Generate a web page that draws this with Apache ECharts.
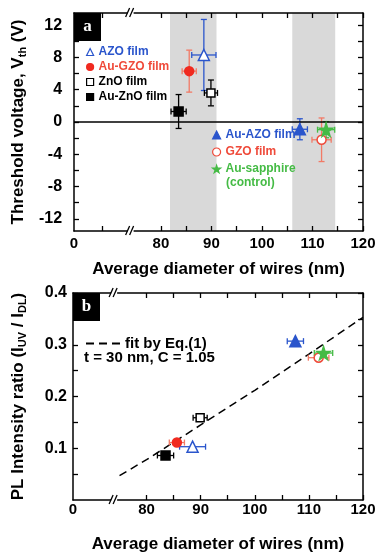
<!DOCTYPE html>
<html>
<head>
<meta charset="utf-8">
<script src="https://cdn.jsdelivr.net/npm/echarts@6/dist/echarts.min.js"></script>
<style>
html, body { margin: 0; padding: 0; background: #fff; }
#chart { width: 381px; height: 554px; }
</style>
</head>
<body>
<div id="chart"></div>
<script>
// samples, same order in both panels
const samples = ['AZO film', 'Au-GZO film', 'ZnO film', 'Au-ZnO film', 'Au-AZO film', 'GZO film', 'Au-sapphire']
const diameter = [88.5, 85.6, 89.9, 83.5, 107.5, 111.8, 112.7]
const diameterErr = [2.4, 1.4, 1.3, 1.5, 1.5, 1.9, 1.7]
const vth = [8.3, 6.3, 3.6, 1.3, -0.9, -2.2, -0.95]
const vthErr = [4.4, 2.6, 1.6, 2.1, 1.3, 2.7, 1.0]
const plRatio = [0.103, 0.111, 0.159, 0.086, 0.307, 0.275, 0.284]
// dashed model curve, panel b
const fitDiameter = [75, 80, 90, 100, 110, 120]
const fitRatio = [0.047, 0.078, 0.145, 0.212, 0.282, 0.353]
// shaded ranges of panel a
const shadeRanges = [[81.8, 91.0], [106.0, 114.5]]
// axes (the left end of each x axis stands for 0, the axis is broken)
const xMinA = 62.8
const xMinB = 66.4
const xBreak = 74
const xTicksA = [68.4, 80, 85, 90, 95, 100, 105, 110, 115, 120]
const xTicksB = [80, 85, 90, 95, 100, 105, 110, 115, 120]
const xLabelsA = [xMinA, 80, 90, 100, 110, 120]
const xLabelsB = [xMinB, 80, 90, 100, 110, 120]
const yTicksA = [-12, -10, -8, -6, -4, -2, 0, 2, 4, 6, 8, 10, 12]
const yLabelsA = [-12, -8, -4, 0, 4, 8, 12]
const yTicksB = [0.05, 0.1, 0.15, 0.2, 0.25, 0.3, 0.35, 0.4]
const yLabelsB = [0.1, 0.2, 0.3, 0.4]

const BLUE = '#2a55cc'
const RED = '#ef4a3a'
const SALMON = '#f27a66'
const GREEN = '#45bb45'
const FONT = '"Liberation Sans", Arial, sans-serif'
const STAR = 'path://M50,0 L61,35 L98,35 L68,57 L79,91 L50,70 L21,91 L32,57 L2,35 L39,35 Z'
const DASHES = 'path://M0,0 L8,0 L8,2 L0,2 Z M13,0 L21,0 L21,2 L13,2 Z M26,0 L34,0 L34,2 L26,2 Z'

const symbols = ['triangle', 'circle', 'rect', 'rect', 'triangle', 'circle', STAR]
const fills = ['#fff', '#f02a20', '#fff', '#000', BLUE, '#fff', GREEN]
const strokes = [BLUE, '#f02a20', '#000', '#000', BLUE, RED, GREEN]
const errColors = [BLUE, SALMON, '#000', '#000', BLUE, SALMON, GREEN]
const symSize = [11, 9, 8, 9, 11, 9, 13]
const textColors = [BLUE, RED, '#000', '#000', BLUE, RED, GREEN]

const myChart = echarts.init(document.getElementById('chart'))

function errorBars (hasY) {
  return function (params, api) {
    const x = api.value(0)
    const y = api.value(1)
    const ex = api.value(2)
    const ey = api.value(3)
    const style = { stroke: errColors[params.dataIndex], lineWidth: 1.3, fill: null }
    const cap = 3
    const l = api.coord([x - ex, y])
    const r = api.coord([x + ex, y])
    const children = [
      { type: 'line', shape: { x1: l[0], y1: l[1], x2: r[0], y2: r[1] }, style: style },
      { type: 'line', shape: { x1: l[0], y1: l[1] - cap, x2: l[0], y2: l[1] + cap }, style: style },
      { type: 'line', shape: { x1: r[0], y1: r[1] - cap, x2: r[0], y2: r[1] + cap }, style: style }
    ]
    if (hasY) {
      const t = api.coord([x, y + ey])
      const b = api.coord([x, y - ey])
      children.push(
        { type: 'line', shape: { x1: t[0], y1: t[1], x2: b[0], y2: b[1] }, style: style },
        { type: 'line', shape: { x1: t[0] - cap, y1: t[1], x2: t[0] + cap, y2: t[1] }, style: style },
        { type: 'line', shape: { x1: b[0] - cap, y1: b[1], x2: b[0] + cap, y2: b[1] }, style: style }
      )
    }
    return { type: 'group', children: children }
  }
}

function xAxisOf (gridIndex, min, ticks, labels, position, nameGap) {
  return {
    type: 'value',
    gridIndex: gridIndex,
    position: position,
    min: min,
    max: 120,
    z: 10,
    name: position === 'bottom' ? 'Average diameter of wires (nm)' : '',
    nameLocation: 'middle',
    nameGap: nameGap,
    nameTextStyle: { fontSize: 17, fontWeight: 'bold', color: '#000', fontFamily: FONT },
    axisLine: { show: true, onZero: false, lineStyle: { color: '#000', width: 1.5 } },
    axisTick: { show: true, inside: true, length: 5, customValues: ticks, lineStyle: { color: '#000', width: 1.3 } },
    axisLabel: {
      show: position === 'bottom',
      customValues: labels,
      showMinLabel: true,
      showMaxLabel: true,
      margin: gridIndex === 0 ? 5 : 2,
      fontSize: 15,
      fontWeight: 'bold',
      color: '#000',
      fontFamily: FONT,
      formatter: function (v) {
        return v < xBreak ? '0' : String(v)
      }
    },
    splitLine: { show: false }
  }
}

function yAxisOf (gridIndex, min, max, ticks, labels, position, name, fmt) {
  return {
    type: 'value',
    gridIndex: gridIndex,
    position: position,
    min: min,
    max: max,
    z: 10,
    name: position === 'left' ? name : '',
    nameLocation: 'middle',
    nameRotate: 90,
    nameGap: 45,
    nameTextStyle: {
      fontSize: 17,
      fontWeight: 'bold',
      color: '#000',
      fontFamily: FONT,
      lineHeight: 20,
      rich: {
        sub: { fontSize: 11, fontWeight: 'bold', color: '#000', fontFamily: FONT, verticalAlign: 'bottom', lineHeight: 12 }
      }
    },
    axisLine: { show: true, onZero: false, lineStyle: { color: '#000', width: 1.5 } },
    axisTick: { show: true, inside: true, length: 5, customValues: ticks, lineStyle: { color: '#000', width: 1.3 } },
    axisLabel: {
      show: position === 'left',
      customValues: labels,
      showMinLabel: true,
      showMaxLabel: true,
      margin: gridIndex === 0 ? 12 : 6,
      fontSize: 16,
      fontWeight: 'bold',
      color: '#000',
      fontFamily: FONT,
      formatter: fmt
    },
    splitLine: { show: false }
  }
}

const series = [
  {
    name: 'bands',
    type: 'line',
    xAxisIndex: 0,
    yAxisIndex: 0,
    data: [],
    z: 1,
    silent: true,
    markArea: {
      silent: true,
      itemStyle: { color: '#d9d9d9' },
      data: shadeRanges.map(r => [{ xAxis: r[0] }, { xAxis: r[1] }])
    },
    markLine: {
      silent: true,
      symbol: 'none',
      label: { show: false },
      lineStyle: { color: '#000', width: 1.5, type: 'solid' },
      data: [{ yAxis: 0 }]
    }
  },
  {
    name: 'err a',
    type: 'custom',
    xAxisIndex: 0,
    yAxisIndex: 0,
    z: 3,
    renderItem: errorBars(true),
    encode: { x: 0, y: 1 },
    data: diameter.map((d, i) => [d, vth[i], diameterErr[i], vthErr[i]])
  },
  {
    name: 'err b',
    type: 'custom',
    xAxisIndex: 2,
    yAxisIndex: 2,
    z: 3,
    renderItem: errorBars(false),
    encode: { x: 0, y: 1 },
    data: diameter.map((d, i) => [d, plRatio[i], diameterErr[i], 0])
  },
  {
    name: 'fit by Eq.(1)',
    type: 'line',
    xAxisIndex: 2,
    yAxisIndex: 2,
    z: 2,
    symbol: 'none',
    smooth: false,
    lineStyle: { color: '#000', width: 1.5, type: [8, 5] },
    itemStyle: { color: '#000' },
    data: fitDiameter.map((d, i) => [d, fitRatio[i]])
  }
]

samples.forEach((name, i) => {
  const base = {
    name: name,
    type: 'scatter',
    symbol: symbols[i],
    symbolSize: symSize[i],
    z: 5,
    itemStyle: { color: fills[i], borderColor: strokes[i], borderWidth: 1.5, opacity: 1 }
  }
  series.push(Object.assign({}, base, { xAxisIndex: 0, yAxisIndex: 0, data: [[diameter[i], vth[i]]] }))
  series.push(Object.assign({}, base, { xAxisIndex: 2, yAxisIndex: 2, data: [[diameter[i], plRatio[i]]] }))
})

const legendText = { fontSize: 12, fontWeight: 'bold', fontFamily: FONT, lineHeight: 14 }

function legendItem (i) {
  return {
    name: samples[i],
    icon: symbols[i],
    itemStyle: { color: fills[i], borderColor: strokes[i], borderWidth: 1.2 },
    textStyle: { color: textColors[i] }
  }
}

const option = {
  animation: false,
  backgroundColor: '#fff',
  grid: [
    { left: 68, right: 18, top: 13, height: 218 },
    { left: 68, right: 18, top: 293, height: 216 }
  ],
  xAxis: [
    xAxisOf(0, xMinA, xTicksA, xLabelsA, 'bottom', 30),
    xAxisOf(0, xMinA, xTicksA, xLabelsA, 'top', 0),
    xAxisOf(1, xMinB, xTicksB, xLabelsB, 'bottom', 36),
    xAxisOf(1, xMinB, xTicksB, xLabelsB, 'top', 0)
  ],
  yAxis: [
    yAxisOf(0, -13.5, 13.5, yTicksA, yLabelsA, 'left', 'Threshold voltage, V{sub|th} (V)', v => String(v)),
    yAxisOf(0, -13.5, 13.5, yTicksA, yLabelsA, 'right', '', v => String(v)),
    yAxisOf(1, 0, 0.4, yTicksB, yLabelsB, 'left', 'PL Intensity ratio (I{sub|UV} / I{sub|DL})', v => v.toFixed(1)),
    yAxisOf(1, 0, 0.4, yTicksB, yLabelsB, 'right', '', v => v.toFixed(1))
  ],
  legend: [
    {
      left: 81,
      top: 40,
      orient: 'vertical',
      itemGap: 1,
      itemWidth: 7,
      itemHeight: 7,
      selectedMode: false,
      textStyle: legendText,
      data: [0, 1, 2, 3].map(legendItem)
    },
    {
      left: 207,
      top: 123,
      orient: 'vertical',
      itemGap: 3,
      itemWidth: 8,
      itemHeight: 8,
      selectedMode: false,
      textStyle: legendText,
      data: [4, 5, 6].map(legendItem)
    },
    {
      left: 81,
      top: 331,
      itemWidth: 34,
      itemHeight: 2,
      itemGap: 2,
      selectedMode: false,
      textStyle: { fontSize: 15, fontWeight: 'bold', fontFamily: FONT, color: '#000' },
      data: [{ name: 'fit by Eq.(1)', icon: DASHES, itemStyle: { color: '#000', borderWidth: 0 } }]
    }
  ],
  series: series
}

myChart.setOption(option)

// break marks, panel tags and loose texts
function breakMarks (xIndex, yIndex, yVal) {
  const x = myChart.convertToPixel({ xAxisIndex: xIndex }, xBreak)
  const y = myChart.convertToPixel({ yAxisIndex: yIndex }, yVal)
  const st = { stroke: '#000', lineWidth: 1.3 }
  return [
    { type: 'rect', z: 20, shape: { x: x - 3, y: y - 2, width: 6, height: 4 }, style: { fill: '#fff' } },
    { type: 'line', z: 21, shape: { x1: x - 5, y1: y + 4, x2: x - 1, y2: y - 5 }, style: st },
    { type: 'line', z: 21, shape: { x1: x - 1, y1: y + 4, x2: x + 3, y2: y - 5 }, style: st }
  ]
}

function tag (label, xIndex, yIndex, xVal, yVal) {
  const x = myChart.convertToPixel({ xAxisIndex: xIndex }, xVal)
  const y = myChart.convertToPixel({ yAxisIndex: yIndex }, yVal)
  return [
    { type: 'rect', z: 20, shape: { x: x, y: y, width: 27, height: 28 }, style: { fill: '#000' } },
    {
      type: 'text',
      z: 21,
      x: x + 13.5,
      y: y + 14,
      style: { text: label, fill: '#fff', font: 'bold 17px "Liberation Serif", serif', align: 'center', verticalAlign: 'middle' }
    }
  ]
}

const graphics = []
  .concat(breakMarks(0, 0, -13.5))
  .concat(breakMarks(1, 0, 13.5))
  .concat(breakMarks(2, 2, 0))
  .concat(breakMarks(3, 2, 0.4))
  .concat(tag('a', 0, 0, xMinA, 13.5))
  .concat(tag('b', 2, 2, xMinB, 0.4))
  .concat([
    {
      type: 'text',
      left: 226,
      top: 177,
      style: { text: '(control)', fill: GREEN, font: 'bold 12px ' + FONT }
    },
    {
      type: 'text',
      left: 84,
      top: 350,
      style: { text: 't = 30 nm, C = 1.05', fill: '#000', font: 'bold 15px ' + FONT }
    }
  ])

myChart.setOption({ graphic: graphics })
</script>
</body>
</html>
